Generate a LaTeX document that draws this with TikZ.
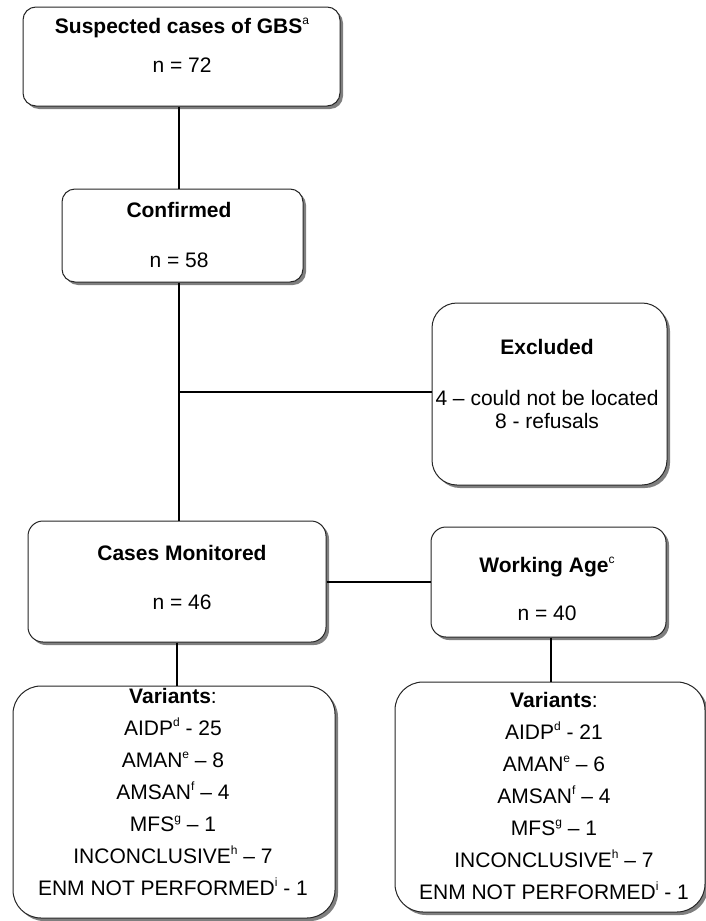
\documentclass[tikz,border=0pt]{standalone}
\usepackage{fontspec}
\setmainfont{Liberation Sans}
\usetikzlibrary{positioning, shadows}
\newcommand{\boxfont}{\fontsize{21}{32}\selectfont}
\newcommand{\supmark}[1]{\raisebox{9pt}{\fontsize{12}{12}\selectfont #1}}
\tikzset{
    box/.style={rectangle, rounded corners=13pt, draw=black!85, line width=1pt, fill=white, inner sep=0pt,
        drop shadow={shadow xshift=3pt, shadow yshift=-3pt, fill=black, opacity=0.5}},
    roundbox/.style={box, rounded corners=28pt},
    boxtext/.style={anchor=base, inner sep=0pt, font=\boxfont},
    link/.style={-, line width=2.5pt, color=black}
}
\begin{document}
\begin{tikzpicture}[x=1pt, y=-1pt]
    \useasboundingbox (0,0) rectangle (706,921);

    % Boxes
    \node[box, minimum width=317pt, minimum height=99pt] (susp) at (181.5,56.5) {};
    \node[box, minimum width=241pt, minimum height=93pt] (conf) at (182.5,235.5) {};
    \node[roundbox, minimum width=235pt, minimum height=182pt, rounded corners=25pt] (excl) at (549.5,394) {};
    \node[box, minimum width=298pt, minimum height=121pt, rounded corners=15pt] (mon) at (177,581.5) {};
    \node[box, minimum width=235pt, minimum height=110pt, rounded corners=15pt] (work) at (548.5,582) {};
    \node[roundbox, minimum width=322pt, minimum height=232pt] (varl) at (174,802) {};
    \node[roundbox, minimum width=310pt, minimum height=230pt] (varr) at (550,797) {};

    % Texts
    \node[boxtext] (susptxt) at (182,33) {\begin{tabular}[t]{c}\textbf{Suspected cases of GBS}\supmark{a}\\[7pt] n = 72\end{tabular}};
    \node[boxtext] (conftxt) at (179,217) {\begin{tabular}[t]{c}\textbf{Confirmed}\\[18pt] n = 58\end{tabular}};
    \node[boxtext, font=\fontsize{21}{23}\selectfont] (excltxt) at (547,354) {\begin{tabular}[t]{@{}c@{}}\textbf{Excluded}\\[28pt] 4 -- could not be located\\ 8 - refusals\end{tabular}};
    \node[boxtext] (montxt) at (182,560) {\begin{tabular}[t]{c}\textbf{Cases Monitored}\\[17pt] n = 46\end{tabular}};
    \node[boxtext] (worktxt) at (547,572) {\begin{tabular}[t]{c}\textbf{Working Age}\supmark{c}\\[16pt] n = 40\end{tabular}};
    \node[boxtext] (varltxt) at (173,703) {\begin{tabular}[t]{c}\textbf{Variants}:\\ AIDP\supmark{d} - 25\\ AMAN\supmark{e} -- 8\\ AMSAN\supmark{f} -- 4\\ MFS\supmark{g} -- 1\\ INCONCLUSIVE\supmark{h} -- 7\\ ENM NOT PERFORMED\supmark{i} - 1\end{tabular}};
    \node[boxtext] (varrtxt) at (554,707) {\begin{tabular}[t]{c}\textbf{Variants}:\\ AIDP\supmark{d} - 21\\ AMAN\supmark{e} -- 6\\ AMSAN\supmark{f} -- 4\\ MFS\supmark{g} -- 1\\ INCONCLUSIVE\supmark{h} -- 7\\ ENM NOT PERFORMED\supmark{i} - 1\end{tabular}};

    % Links
    \coordinate (spine) at (179,392);
    \draw[link] (susp.south -| spine) -- (conf.north -| spine);
    \draw[link] (conf.south -| spine) -- (mon.north -| spine);
    \draw[link] (spine) -- (spine -| excl.west);
    \draw[link] (mon.east |- work.west) -- (work.west);
    \draw[link] (mon.south) -- (mon.south |- varl.north);
    \draw[link] ([xshift=2.5pt]work.south) -- ([xshift=2.5pt]work.south |- varr.north);
\end{tikzpicture}
\end{document}
